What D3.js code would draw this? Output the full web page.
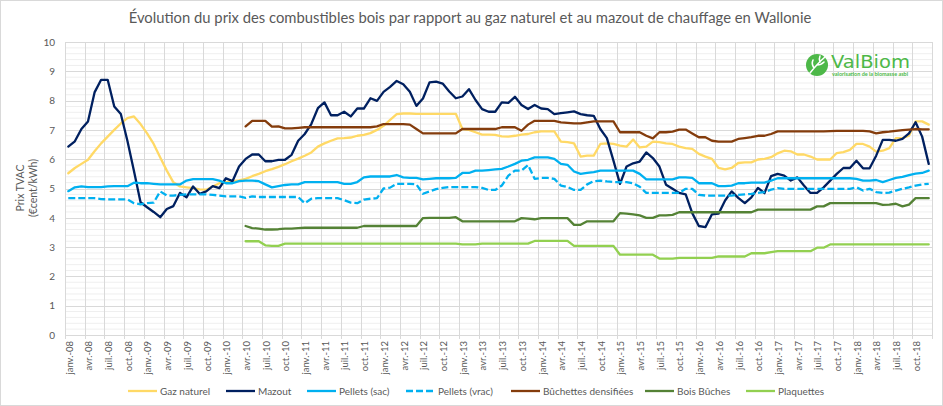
<!DOCTYPE html>
<html><head><meta charset="utf-8">
<script src="https://cdn.jsdelivr.net/npm/d3@7"></script>
<style>body{margin:0;background:#fff}svg{display:block}</style>
</head><body>
<svg id="chart" width="943" height="406"></svg>
<script>
// ---------- DATA ----------
const monthNames = ["janv.","févr.","mars","avr.","mai","juin","juil.","août","sept.","oct.","nov.","déc."];
const years = ["08","09","10","11","12","13","14","15","16","17","18"];
const categories = years.flatMap(y => monthNames.map(m => m + "-" + y));

const gazNaturel = [5.52,5.7,5.84,5.98,6.27,6.54,6.77,7.0,7.22,7.4,7.46,7.2,6.88,6.52,6.06,5.61,5.21,5.07,5.04,5.01,4.97,4.96,5.07,5.18,
5.22,5.25,5.28,5.33,5.42,5.5,5.59,5.66,5.74,5.83,5.93,6.02,6.12,6.23,6.43,6.54,6.63,6.71,6.72,6.74,6.8,6.83,6.89,7.0,
7.14,7.34,7.54,7.56,7.56,7.55,7.55,7.55,7.55,7.55,7.55,7.55,7.03,7.0,6.92,6.84,6.84,6.83,6.78,6.77,6.8,6.84,6.86,6.92,
6.95,6.95,6.95,6.6,6.58,6.54,6.09,6.12,6.12,6.52,6.54,6.52,6.46,6.43,6.67,6.4,6.43,6.6,6.58,6.54,6.52,6.43,6.38,6.35,
6.18,6.09,6.01,5.7,5.65,5.7,5.87,5.89,5.89,5.99,6.01,6.07,6.2,6.29,6.27,6.16,6.16,6.09,5.99,5.99,5.99,6.21,6.24,6.32,
6.52,6.52,6.43,6.26,6.29,6.38,6.72,6.72,6.8,7.29,7.29,7.18];

const mazout = [6.43,6.61,7.03,7.29,8.28,8.71,8.71,7.8,7.54,6.63,5.6,4.53,4.36,4.2,4.02,4.3,4.4,4.85,4.7,5.07,4.82,4.9,5.08,5.01,
5.35,5.25,5.75,6.01,6.16,6.16,5.93,5.93,5.98,5.98,6.15,6.63,6.86,7.2,7.74,7.94,7.5,7.5,7.62,7.46,7.73,7.73,8.08,7.99,
8.3,8.47,8.67,8.56,8.3,7.82,8.07,8.62,8.65,8.58,8.31,8.08,8.14,8.39,8.02,7.71,7.62,7.62,7.94,7.92,8.13,7.85,7.71,7.85,
7.73,7.71,7.54,7.57,7.6,7.63,7.54,7.5,7.48,7.03,6.72,5.95,5.16,5.75,5.86,5.92,6.23,6.04,5.75,5.13,4.99,4.85,4.8,4.16,
3.72,3.68,4.12,4.14,4.59,4.9,4.68,4.5,4.7,5.02,4.84,5.42,5.5,5.44,5.27,5.38,5.1,4.85,4.85,5.04,5.27,5.5,5.7,5.7,
5.95,5.69,5.69,6.12,6.66,6.66,6.63,6.69,6.88,7.26,6.77,5.84];

const pelletsSac = [4.91,5.04,5.07,5.05,5.05,5.05,5.07,5.08,5.08,5.08,5.2,5.18,5.18,5.16,5.14,5.14,5.14,5.14,5.27,5.32,5.32,5.32,5.32,5.27,
5.18,5.18,5.25,5.27,5.27,5.25,5.14,5.04,5.08,5.12,5.14,5.14,5.22,5.22,5.22,5.22,5.22,5.22,5.16,5.16,5.22,5.38,5.41,5.41,
5.41,5.41,5.46,5.38,5.36,5.36,5.31,5.33,5.35,5.35,5.35,5.36,5.53,5.53,5.61,5.61,5.63,5.65,5.67,5.75,5.84,5.95,5.98,6.06,
6.06,6.06,6.01,5.84,5.81,5.58,5.5,5.53,5.56,5.61,5.61,5.61,5.61,5.61,5.61,5.5,5.31,5.31,5.31,5.31,5.31,5.38,5.38,5.36,
5.18,5.18,5.18,5.08,5.08,5.1,5.18,5.18,5.2,5.2,5.2,5.27,5.35,5.35,5.35,5.35,5.35,5.35,5.35,5.35,5.35,5.35,5.35,5.35,
5.33,5.27,5.27,5.29,5.22,5.29,5.36,5.4,5.46,5.51,5.53,5.61];

const pelletsVrac = [4.67,4.67,4.67,4.67,4.67,4.64,4.63,4.63,4.63,4.63,4.5,4.46,4.5,4.52,4.9,4.76,4.76,4.78,4.8,4.8,4.8,4.8,4.78,4.76,
4.73,4.73,4.73,4.68,4.73,4.71,4.71,4.71,4.71,4.71,4.71,4.71,4.5,4.65,4.67,4.67,4.67,4.67,4.6,4.52,4.5,4.62,4.65,4.67,
5.0,5.03,5.16,5.16,5.16,5.14,4.82,4.9,4.98,5.02,5.05,5.05,5.05,5.05,5.05,5.02,4.95,4.95,5.1,5.44,5.61,5.61,5.8,5.33,
5.36,5.36,5.33,5.1,5.05,4.95,4.95,5.14,5.25,5.27,5.24,5.22,5.22,5.22,5.18,5.06,4.85,4.85,4.85,4.85,4.85,4.85,4.99,4.99,
4.78,4.76,4.76,4.76,4.76,4.76,4.78,4.8,4.82,4.85,4.88,4.96,5.01,4.99,4.99,4.99,4.99,4.99,4.99,4.99,4.99,4.99,4.99,4.99,
5.04,4.93,4.99,4.88,4.85,4.86,4.93,4.99,5.04,5.1,5.14,5.16];

const noData = Array(27).fill(null); // janv.-08 .. mars-10 : pas de relevé
const buchettesDensifiees = noData.concat([7.12,7.31,7.31,7.31,7.11,7.12,7.05,7.05,7.07,
7.09,7.09,7.09,7.09,7.09,7.09,7.09,7.09,7.09,7.09,7.09,7.12,
7.2,7.2,7.2,7.2,7.18,7.03,6.88,6.88,6.88,6.88,6.88,6.88,7.03,7.03,7.03,7.03,7.03,7.03,7.09,7.09,7.09,6.97,7.18,7.31,
7.31,7.31,7.31,7.26,7.24,7.22,7.22,7.26,7.29,7.29,7.29,7.29,6.92,6.92,6.92,6.92,6.8,6.71,6.92,6.92,6.94,7.01,7.01,6.88,
6.75,6.75,6.63,6.6,6.6,6.6,6.69,6.72,6.75,6.8,6.8,6.86,6.95,6.95,6.95,6.95,6.95,6.95,6.95,6.95,6.96,6.97,6.97,6.97,
6.97,6.97,6.95,6.88,6.92,6.94,6.97,6.99,7.01,7.03,7.02,7.02]);

const boisBuches = noData.concat([3.72,3.65,3.63,3.6,3.6,3.61,3.63,3.63,3.65,
3.66,3.66,3.66,3.66,3.66,3.66,3.66,3.66,3.66,3.72,3.72,3.72,
3.72,3.72,3.72,3.72,3.72,3.72,3.99,4.0,4.0,4.0,4.0,4.02,3.88,3.88,3.88,3.88,3.88,3.88,3.88,3.88,3.88,3.99,3.97,3.95,
3.99,3.99,3.99,3.99,3.99,3.76,3.76,3.88,3.88,3.88,3.88,3.88,4.16,4.14,4.12,4.08,4.0,4.0,4.08,4.08,4.1,4.19,4.19,4.19,
4.19,4.19,4.19,4.19,4.19,4.19,4.19,4.19,4.19,4.28,4.28,4.28,4.28,4.28,4.28,4.28,4.28,4.28,4.39,4.39,4.5,4.5,4.5,4.5,
4.5,4.5,4.5,4.5,4.44,4.45,4.48,4.39,4.45,4.67,4.67,4.67]);

const plaquettes = noData.concat([3.2,3.2,3.2,3.06,3.04,3.04,3.12,3.12,3.12,
3.12,3.12,3.12,3.12,3.12,3.12,3.12,3.12,3.12,3.12,3.12,3.12,
3.12,3.12,3.12,3.12,3.12,3.12,3.12,3.12,3.12,3.12,3.12,3.12,3.09,3.09,3.09,3.12,3.12,3.12,3.12,3.12,3.12,3.12,3.12,3.21,
3.21,3.21,3.21,3.21,3.21,3.04,3.04,3.04,3.04,3.04,3.04,3.04,2.74,2.74,2.74,2.74,2.74,2.74,2.61,2.61,2.61,2.63,2.63,2.63,
2.63,2.63,2.63,2.68,2.68,2.68,2.68,2.68,2.79,2.79,2.79,2.83,2.86,2.86,2.86,2.86,2.86,2.86,2.98,2.98,3.09,3.09,3.09,3.09,
3.09,3.09,3.09,3.09,3.09,3.09,3.09,3.09,3.09,3.09,3.09,3.09]);

const seriesNames = ["Gaz naturel","Mazout","Pellets (sac)","Pellets (vrac)","Bûchettes densifiées","Bois Bûches","Plaquettes"];
const seriesColors = ["#FFD966","#002060","#00B0F0","#00B0F0","#843C0C","#548235","#92D050"];
const seriesValues = [gazNaturel, mazout, pelletsSac, pelletsVrac, buchettesDensifiees, boisBuches, plaquettes];
const yTicks = [0,1,2,3,4,5,6,7,8,9,10];
const title = "Évolution du prix des combustibles bois par rapport au gaz naturel et au mazout de chauffage en Wallonie";
const yTitle = ["Prix TVAC", "(€cent/kWh)"];

// ---------- DRAW ----------
const svg = d3.select("#chart");
const FONT = "Lato, 'Liberation Sans', sans-serif";
const TXT = "#595959";

svg.append("rect").attr("x",0.5).attr("y",0.5).attr("width",942).attr("height",405)
  .attr("fill","#fff").attr("stroke","#d9d9d9");

const x = d3.scaleBand().domain(d3.range(categories.length)).range([65, 932]).padding(0);
const bw = x.bandwidth();
const cx = i => x(i) + bw / 2;
const y = d3.scaleLinear().domain([0, 10]).range([335, 42]);

// minor horizontal grid
const minor = d3.range(0, 51).map(k => k / 5).filter(v => Math.abs(v - Math.round(v)) > 1e-6);
svg.append("g").selectAll("line").data(minor).join("line")
  .attr("x1", 65).attr("x2", 932).attr("y1", d => y(d)).attr("y2", d => y(d))
  .attr("stroke", "#efefef").attr("stroke-width", 1);
// major horizontal grid
svg.append("g").selectAll("line").data(yTicks).join("line")
  .attr("x1", 65).attr("x2", 932).attr("y1", d => Math.round(y(d)) + 0.5).attr("y2", d => Math.round(y(d)) + 0.5)
  .attr("stroke", "#d9d9d9").attr("stroke-width", 1);
// vertical grid every 3 months
const vb = d3.range(0, categories.length + 1, 3);
svg.append("g").selectAll("line").data(vb).join("line")
  .attr("x1", d => Math.round(d < categories.length ? x(d) : x.range()[1]) + 0.5)
  .attr("x2", d => Math.round(d < categories.length ? x(d) : x.range()[1]) + 0.5)
  .attr("y1", y(10)).attr("y2", y(0) + 4)
  .attr("stroke", "#d9d9d9").attr("stroke-width", 1);

// y axis
const yAxis = svg.append("g").attr("transform", "translate(65,0)")
  .call(d3.axisLeft(y).tickValues(yTicks).tickSize(0).tickPadding(10));
yAxis.select(".domain").remove();
yAxis.selectAll("text").attr("font-family", FONT).attr("font-size", 10).attr("fill", TXT);

// x labels
const xIdx = d3.range(0, categories.length, 3);
svg.append("g").selectAll("text").data(xIdx).join("text")
  .attr("transform", d => `translate(${cx(d) + 1},341) rotate(-90)`)
  .attr("text-anchor", "end").attr("dy", "0.35em")
  .attr("font-family", FONT).attr("font-size", 9.5).attr("fill", TXT)
  .text(d => categories[d]);

// lines
const line = d3.line().defined(d => d != null).x((d, i) => cx(i)).y(d => y(d));
seriesValues.forEach((vals, k) => {
  svg.append("path").datum(vals).attr("d", line)
    .attr("fill", "none").attr("stroke", seriesColors[k]).attr("stroke-width", 2.3)
    .attr("stroke-linejoin", "round").attr("stroke-linecap", k === 3 ? "butt" : "round")
    .attr("stroke-dasharray", k === 3 ? "7,3" : null);
});

// title
svg.append("text").attr("x", 470).attr("y", 23).attr("text-anchor", "middle")
  .attr("font-family", FONT).attr("font-size", 14.8).attr("font-weight", 400).attr("fill", TXT)
  .text(title);

// y title
const yt = svg.append("text").attr("transform", "translate(24,188) rotate(-90)")
  .attr("text-anchor", "middle").attr("font-family", FONT).attr("font-size", 10.5).attr("fill", TXT);
yt.selectAll("tspan").data(yTitle).join("tspan").attr("x", 0).attr("dy", (d, i) => i ? "1.2em" : 0).text(d => d);

// legend
const legX = [128, 226, 307, 406, 511, 645, 746];
const leg = svg.append("g");
seriesNames.forEach((n, k) => {
  const g = leg.append("g").attr("transform", `translate(${legX[k]},391)`);
  g.append("line").attr("x1", 0).attr("x2", 29).attr("stroke", seriesColors[k]).attr("stroke-width", 2.3)
    .attr("stroke-dasharray", k === 3 ? "7,3" : null);
  g.append("text").attr("x", 32).attr("dy", "0.35em").attr("font-family", FONT).attr("font-size", 10)
    .attr("fill", TXT).text(n);
});

// logo ValBiom
const logo = svg.append("g");
logo.append("circle").attr("cx", 817).attr("cy", 65).attr("r", 11).attr("fill", "#4DB848");
logo.append("path").attr("d", "M810,73 C814,68 818,63 825,57 M814,68 C812,65 812,62 813,60 M817,65 C820,65 822,64 824,62 M820,62 C819,59 819,58 820,56")
  .attr("fill", "none").attr("stroke", "#fff").attr("stroke-width", 1.6).attr("stroke-linecap", "round");
logo.append("text").attr("x", 831).attr("y", 68).attr("font-family", "'DejaVu Sans', sans-serif")
  .attr("font-size", 17).attr("fill", "#4DB848").attr("textLength", 79).attr("lengthAdjust", "spacingAndGlyphs").text("ValBiom");
logo.append("text").attr("x", 832).attr("y", 75.5).attr("font-family", FONT).attr("font-weight", 700)
  .attr("font-size", 4.6).attr("fill", "#4DB848").attr("textLength", 76).attr("lengthAdjust", "spacingAndGlyphs")
  .text("valorisation de la biomasse asbl");
</script>
</body></html>
